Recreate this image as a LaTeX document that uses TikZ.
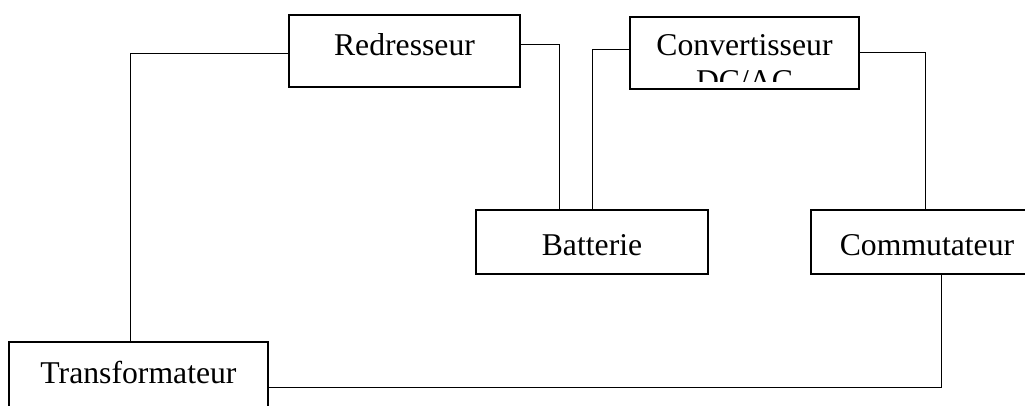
\documentclass[tikz,border=0pt]{standalone}
\usepackage{fontspec}
\setmainfont{Liberation Serif}
\usetikzlibrary{calc}
\begin{document}
\begin{tikzpicture}[x=1pt,y=-1pt,
  blockbox/.style={draw=black,line width=2pt,fill=white,inner sep=0pt},
  blocklabel/.style={inner sep=0pt,anchor=base,font=\fontsize{31.7}{36}\selectfont},
  wire/.style={draw=black,line width=1pt}]
  \clip (0,0) rectangle (1025,405);
  \fill[white] (0,0) rectangle (1025,405);

  % blocks
  \node[blockbox,minimum width=231,minimum height=72] (red)   at (404.5,51) {};
  \node[blockbox,minimum width=229,minimum height=72] (conv)  at (744.5,53) {};
  \node[blockbox,minimum width=232,minimum height=64] (bat)   at (592,242) {};
  \node[blockbox,minimum width=232,minimum height=64] (comm)  at (927,242) {};
  \node[blockbox,minimum width=259,minimum height=66] (trans) at (138.5,375) {};

  % labels
  \node[blocklabel] (redT)   at (404.5,55)  {Redresseur};
  \node[blocklabel] (convT)  at (744.5,55)  {Convertisseur};
  \begin{scope}
    \clip (conv.north west) rectangle ($(conv.south east)+(0,-9)$);
    \node[blocklabel] (convT2) at (744.5,91) {DC/AC};
  \end{scope}
  \node[blocklabel] (batT)   at (592,255.5) {Batterie};
  \node[blocklabel] (commT)  at (927,255.5) {Commutateur};
  \node[blocklabel] (transT) at (138.5,383) {Transformateur};

  % connections
  \coordinate (w1) at (130,53);
  \coordinate (w2) at (559,44);
  \coordinate (w3) at (592,49);
  \coordinate (w4) at (925,52);
  \coordinate (w5) at (941,387);

  \draw[wire] (trans.north -| w1) |- (red.west |- w1);
  \draw[wire] (red.east |- w2) -| (bat.north -| w2);
  \draw[wire] (bat.north -| w3) |- (conv.west |- w3);
  \draw[wire] (conv.east |- w4) -| (comm.north -| w4);
  \draw[wire] (comm.south -| w5) |- (trans.east |- w5);
\end{tikzpicture}
\end{document}
